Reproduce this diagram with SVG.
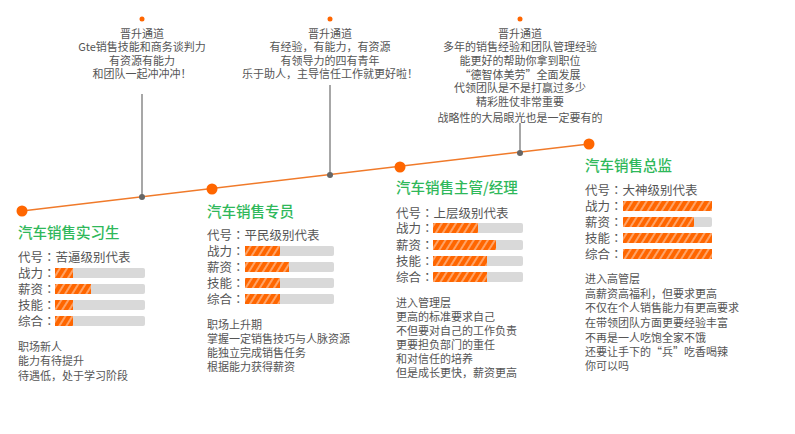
<svg xmlns="http://www.w3.org/2000/svg" width="795" height="434" viewBox="0 0 795 434">
<style>
text{font-family:"Noto Sans CJK SC","Noto Sans",sans-serif;fill:#555}
.top{font-size:11px;text-anchor:middle}
.title{font-size:14.5px;fill:#2fb85a;font-weight:500}
.lab{font-size:12.5px}
.desc{font-size:11px}
.c{font-family:"Noto Sans CJK TC",sans-serif}
.bg{fill:#d9d9d9}
.fg{fill:url(#stripe)}
.vl{stroke:#8a8a8a;stroke-width:1.5}
.gd{fill:#666}
.od{fill:#ff6600}
</style>
<defs>
<pattern id="stripe" patternUnits="userSpaceOnUse" width="6" height="12" patternTransform="rotate(32)">
<rect width="6" height="12" fill="#ff6600"/>
<line x1="1" y1="0" x2="1" y2="12" stroke="#ffffff" stroke-width="0.8"/>
</pattern>
</defs>
<g id="connectors">
<line x1="22" y1="211" x2="589" y2="144" stroke="#f07a2a" stroke-width="1.5"/>
<line class="vl" x1="142" y1="94" x2="142" y2="197"/>
<line class="vl" x1="330" y1="85" x2="330" y2="175"/>
<line class="vl" x1="520" y1="123" x2="520" y2="153"/>
<circle class="gd" cx="142" cy="197" r="3"/>
<circle class="gd" cx="330" cy="175" r="3"/>
<circle class="gd" cx="520" cy="153" r="3"/>
<circle class="od" cx="22" cy="211" r="5.5"/>
<circle class="od" cx="212" cy="189" r="5.5"/>
<circle class="od" cx="400" cy="167" r="5.5"/>
<circle class="od" cx="589" cy="144" r="5.5"/>
</g>
<g id="promo1">
<circle class="od" cx="142" cy="19" r="2.5"/>
<text class="top" x="142" y="37.5">晋升通道</text>
<text class="top" x="142" y="51">Gte销售技能和商务谈判力</text>
<text class="top" x="142" y="64.5">有资源有能力</text>
<text class="top" x="142" y="78">和团队一起冲冲冲！</text>
</g>
<g id="promo2">
<circle class="od" cx="330" cy="19" r="2.5"/>
<text class="top" x="330" y="37.5">晋升通道</text>
<text class="top" x="330" y="51">有经验，有能力，有资源</text>
<text class="top" x="330" y="64.5">有领导力的四有青年</text>
<text class="top" x="330" y="78">乐于助人，主导信任工作就更好啦！</text>
</g>
<g id="promo3">
<circle class="od" cx="520" cy="19" r="2.5"/>
<text class="top" x="520" y="37.5">晋升通道</text>
<text class="top" x="520" y="51">多年的销售经验和团队管理经验</text>
<text class="top" x="520" y="64.5">能更好的帮助你拿到职位</text>
<text class="top" x="520" y="78.5">“德智体美劳”全面发展</text>
<text class="top" x="520" y="92">代领团队是不是打赢过多少</text>
<text class="top" x="520" y="106">精彩胜仗非常重要</text>
<text class="top" x="520" y="122">战略性的大局眼光也是一定要有的</text>
</g>
<g id="intern">
<text class="title" x="18" y="237.5">汽车销售实习生</text>
<text class="lab" x="18" y="262">代号<tspan class="c">：</tspan>苦逼级别代表</text>
<text class="lab" x="18" y="278">战力<tspan class="c">：</tspan></text>
<text class="lab" x="18" y="294">薪资<tspan class="c">：</tspan></text>
<text class="lab" x="18" y="310">技能<tspan class="c">：</tspan></text>
<text class="lab" x="18" y="326">综合<tspan class="c">：</tspan></text>
<rect class="bg" x="55" y="268" width="90" height="10" rx="2"/>
<rect class="bg" x="55" y="284" width="90" height="10" rx="2"/>
<rect class="bg" x="55" y="300" width="90" height="10" rx="2"/>
<rect class="bg" x="55" y="316" width="90" height="10" rx="2"/>
<rect class="fg" x="55" y="268" width="18" height="10"/>
<rect class="fg" x="55" y="284" width="36" height="10"/>
<rect class="fg" x="55" y="300" width="18" height="10"/>
<rect class="fg" x="55" y="316" width="18" height="10"/>
<text class="desc" x="18" y="350.5">职场新人</text>
<text class="desc" x="18" y="365">能力有待提升</text>
<text class="desc" x="18" y="379.5">待遇低，处于学习阶段</text>
</g>
<g id="specialist">
<text class="title" x="207" y="216.5">汽车销售专员</text>
<text class="lab" x="207" y="240">代号<tspan class="c">：</tspan>平民级别代表</text>
<text class="lab" x="207" y="256">战力<tspan class="c">：</tspan></text>
<text class="lab" x="207" y="272">薪资<tspan class="c">：</tspan></text>
<text class="lab" x="207" y="288">技能<tspan class="c">：</tspan></text>
<text class="lab" x="207" y="304">综合<tspan class="c">：</tspan></text>
<rect class="bg" x="245" y="246" width="89" height="10" rx="2"/>
<rect class="bg" x="245" y="262" width="89" height="10" rx="2"/>
<rect class="bg" x="245" y="278" width="89" height="10" rx="2"/>
<rect class="bg" x="245" y="294" width="89" height="10" rx="2"/>
<rect class="fg" x="245" y="246" width="35" height="10"/>
<rect class="fg" x="245" y="262" width="44" height="10"/>
<rect class="fg" x="245" y="278" width="35" height="10"/>
<rect class="fg" x="245" y="294" width="35" height="10"/>
<text class="desc" x="207" y="329">职场上升期</text>
<text class="desc" x="207" y="343">掌握一定销售技巧与人脉资源</text>
<text class="desc" x="207" y="357">能独立完成销售任务</text>
<text class="desc" x="207" y="371">根据能力获得薪资</text>
</g>
<g id="manager">
<text class="title" x="396" y="192.5">汽车销售主管/经理</text>
<text class="lab" x="396" y="217.5">代号<tspan class="c">：</tspan>上层级别代表</text>
<text class="lab" x="396" y="233">战力<tspan class="c">：</tspan></text>
<text class="lab" x="396" y="249.5">薪资<tspan class="c">：</tspan></text>
<text class="lab" x="396" y="265.5">技能<tspan class="c">：</tspan></text>
<text class="lab" x="396" y="281.5">综合<tspan class="c">：</tspan></text>
<rect class="bg" x="433" y="223" width="90" height="10" rx="2"/>
<rect class="bg" x="433" y="240" width="90" height="10" rx="2"/>
<rect class="bg" x="433" y="256" width="90" height="10" rx="2"/>
<rect class="bg" x="433" y="272" width="90" height="10" rx="2"/>
<rect class="fg" x="433" y="223" width="45" height="10"/>
<rect class="fg" x="433" y="240" width="63" height="10"/>
<rect class="fg" x="433" y="256" width="54" height="10"/>
<rect class="fg" x="433" y="272" width="54" height="10"/>
<text class="desc" x="396" y="306.5">进入管理层</text>
<text class="desc" x="396" y="321">更高的标准要求自己</text>
<text class="desc" x="396" y="335">不但要对自己的工作负责</text>
<text class="desc" x="396" y="349">更要担负部门的重任</text>
<text class="desc" x="396" y="363">和对信任的培养</text>
<text class="desc" x="396" y="377">但是成长更快，薪资更高</text>
</g>
<g id="director">
<text class="title" x="585" y="170.5">汽车销售总监</text>
<text class="lab" x="585" y="194.5">代号<tspan class="c">：</tspan>大神级别代表</text>
<text class="lab" x="585" y="211">战力<tspan class="c">：</tspan></text>
<text class="lab" x="585" y="227">薪资<tspan class="c">：</tspan></text>
<text class="lab" x="585" y="243">技能<tspan class="c">：</tspan></text>
<text class="lab" x="585" y="259">综合<tspan class="c">：</tspan></text>
<rect class="bg" x="623" y="201" width="89" height="10" rx="2"/>
<rect class="bg" x="623" y="217" width="89" height="10" rx="2"/>
<rect class="bg" x="623" y="233" width="89" height="10" rx="2"/>
<rect class="bg" x="623" y="249" width="89" height="10" rx="2"/>
<rect class="fg" x="623" y="201" width="89" height="10"/>
<rect class="fg" x="623" y="217" width="71" height="10"/>
<rect class="fg" x="623" y="233" width="89" height="10"/>
<rect class="fg" x="623" y="249" width="89" height="10"/>
<text class="desc" x="585" y="282.5">进入高管层</text>
<text class="desc" x="585" y="298">高薪资高福利，但要求更高</text>
<text class="desc" x="585" y="312">不仅在个人销售能力有更高要求</text>
<text class="desc" x="585" y="327">在带领团队方面更要经验丰富</text>
<text class="desc" x="585" y="342">不再是一人吃饱全家不饿</text>
<text class="desc" x="585" y="356">还要让手下的“兵”吃香喝辣</text>
<text class="desc" x="585" y="369.5">你可以吗</text>
</g>
</svg>
